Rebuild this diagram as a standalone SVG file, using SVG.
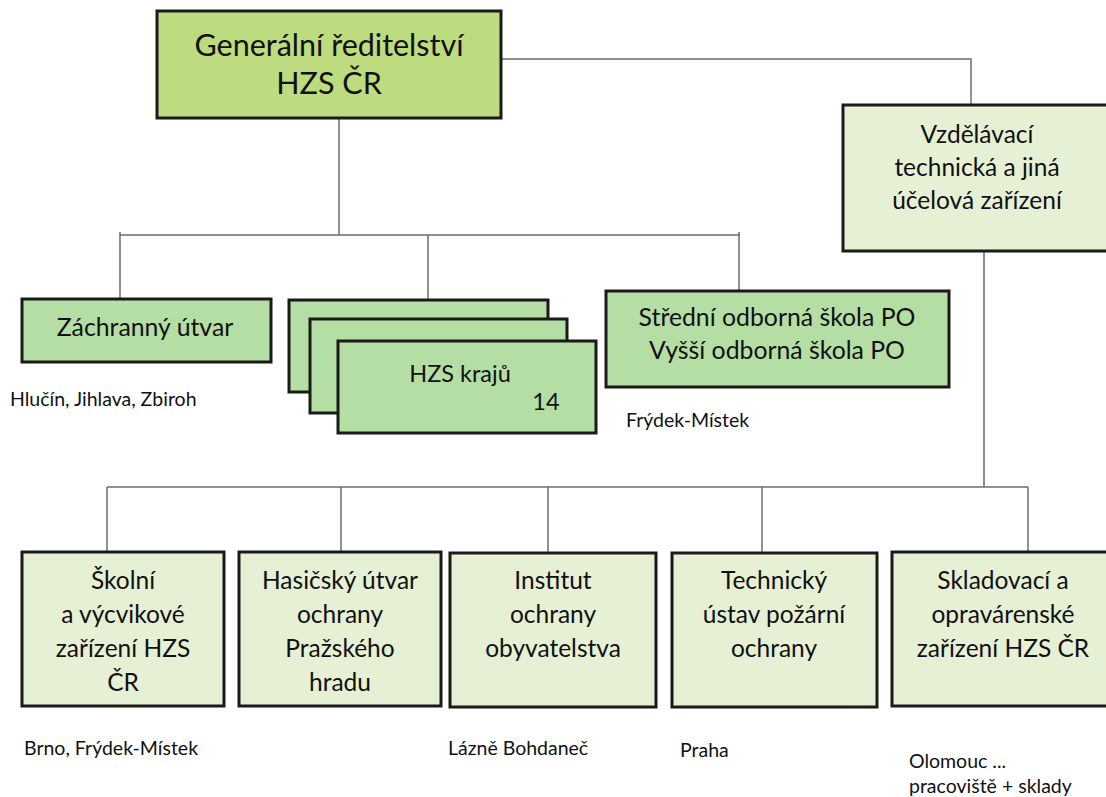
<svg xmlns="http://www.w3.org/2000/svg" width="1106" height="797" viewBox="0 0 1106 797">
<style>
text{font-family:Lato,"Open Sans","Liberation Sans",sans-serif;fill:#111}
.b{stroke:#1a1a1a;stroke-width:3}
.top{fill:#bddb7f}
.mid{fill:#b4dea3}
.lt{fill:#e6f0d4}
.t30{font-size:30.5px;text-anchor:middle}
.t23{font-size:24.8px;text-anchor:middle}
.t22{font-size:24.5px;text-anchor:middle}
.s{font-size:19.5px}
.c{fill:none;stroke:#6e6e6e;stroke-width:1.5}
</style>
<rect width="1106" height="797" fill="#fff"/>
<g id="connectors" class="c">
<path d="M501 59H971V105"/>
<path d="M339 118V235M120 235H740M120 232V299M428 235V300M739 232V291"/>
<path d="M984 251V487M107 487H1028M107 487V552M341 487V552M548 487V552M762 487V553M1028 487V552"/>
</g>
<g id="gr">
<rect class="b top" x="157" y="11" width="344" height="107"/>
<text class="t30" x="329" y="56">Generální ředitelství</text>
<text class="t30" x="329" y="94">HZS ČR</text>
</g>
<g id="vzdelavaci">
<rect class="b lt" x="843" y="105" width="270" height="146"/>
<text class="t22" x="977" y="143">Vzdělávací</text>
<text class="t22" x="977" y="176">technická a jiná</text>
<text class="t22" x="977" y="209">účelová zařízení</text>
</g>
<g id="zachranny">
<rect class="b mid" x="22" y="299" width="249" height="63"/>
<text class="t23" x="145" y="336">Záchranný útvar</text>
<text class="s" x="10" y="406">Hlučín, Jihlava, Zbiroh</text>
</g>
<g id="hzs-kraju">
<rect class="b mid" x="289" y="300" width="259" height="92"/>
<rect class="b mid" x="310" y="319" width="257" height="94"/>
<rect class="b mid" x="338" y="341" width="258" height="92"/>
<text class="t23" x="460" y="382" style="font-size:23.5px">HZS krajů</text>
<text class="t23" x="546" y="410" style="font-size:23.5px">14</text>
</g>
<g id="stredni">
<rect class="b mid" x="606" y="291" width="343" height="96"/>
<text class="t23" x="777" y="326">Střední odborná škola PO</text>
<text class="t23" x="777" y="359">Vyšší odborná škola PO</text>
<text class="s" x="626" y="427">Frýdek-Místek</text>
</g>
<g id="skolni">
<rect class="b lt" x="22" y="552" width="202" height="154"/>
<text class="t22" x="123" y="589">Školní</text>
<text class="t22" x="123" y="623">a výcvikové</text>
<text class="t22" x="123" y="657">zařízení HZS</text>
<text class="t22" x="123" y="691">ČR</text>
<text class="s" x="24" y="755">Brno, Frýdek-Místek</text>
</g>
<g id="hasicsky">
<rect class="b lt" x="239" y="552" width="202" height="154"/>
<text class="t22" x="340" y="589">Hasičský útvar</text>
<text class="t22" x="340" y="623">ochrany</text>
<text class="t22" x="340" y="657">Pražského</text>
<text class="t22" x="340" y="691">hradu</text>
</g>
<g id="institut">
<rect class="b lt" x="450" y="553" width="206" height="154"/>
<text class="t22" x="553" y="589">Institut</text>
<text class="t22" x="553" y="623">ochrany</text>
<text class="t22" x="553" y="657">obyvatelstva</text>
<text class="s" x="448" y="755">Lázně Bohdaneč</text>
</g>
<g id="technicky">
<rect class="b lt" x="672" y="553" width="205" height="154"/>
<text class="t22" x="774" y="589">Technický</text>
<text class="t22" x="774" y="623">ústav požární</text>
<text class="t22" x="774" y="657">ochrany</text>
<text class="s" x="680" y="757">Praha</text>
</g>
<g id="skladovaci">
<rect class="b lt" x="892" y="552" width="222" height="154"/>
<text class="t22" x="1003" y="589">Skladovací a</text>
<text class="t22" x="1003" y="623">opravárenské</text>
<text class="t22" x="1003" y="657">zařízení HZS ČR</text>
<text class="s" x="909" y="768">Olomouc ...</text>
<text class="s" x="909" y="793">pracoviště + sklady</text>
</g>
</svg>
